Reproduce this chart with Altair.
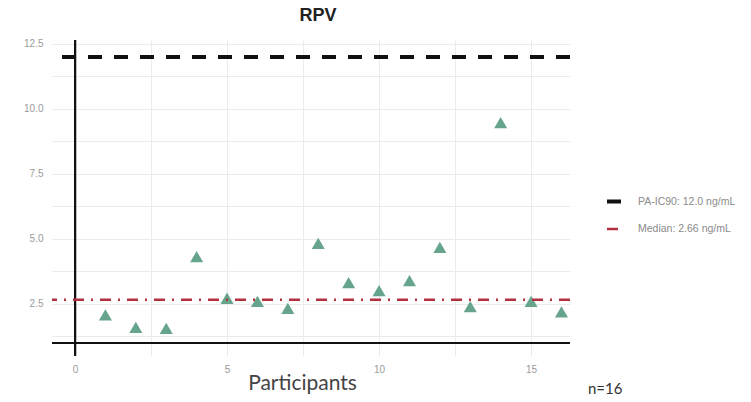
import altair as alt
import pandas as pd

# ---- data ----
participants = list(range(1, 17))
rpv_values = [2.08, 1.60, 1.56, 4.32, 2.72, 2.60, 2.33, 4.83,
              3.32, 3.01, 3.40, 4.68, 2.40, 9.47, 2.60, 2.20]
ref_labels = ["PA-IC90: 12.0 ng/mL", "Median: 2.66 ng/mL"]
ref_values = [12.0, 2.66]
ref_colors = ["#111111", "#b3313f"]
n_label = ["n=16"]
x_ticks = [0, 2.5, 5, 7.5, 10, 12.5, 15]
y_ticks = [1.25, 2.5, 3.75, 5.0, 6.25, 7.5, 8.75, 10.0, 11.25, 12.5]

pts = pd.DataFrame({"Participant": participants, "RPV": rpv_values})
refs = pd.DataFrame({"label": ref_labels, "value": ref_values})
ntext = pd.DataFrame({"t": n_label})

W, H = 518, 316
xs = alt.Scale(domain=[-0.757, 16.28], nice=False, zero=False)
ys = alt.Scale(domain=[0.5, 12.65], nice=False, zero=False)

x_axis = alt.Axis(values=x_ticks, labelExpr="datum.value % 5 == 0 ? format(datum.value, 'd') : ''",
                  grid=True, gridColor="#ebebeb", gridWidth=1, domain=False, ticks=False,
                  labelColor="#9a9a9a", labelFontSize=10, labelPadding=8, labelOverlap=False,
                  title="Participants", titleFont="Lato", titleFontSize=21,
                  titleFontWeight="normal", titleColor="#444444", titlePadding=-2, titleX=250)
y_axis = alt.Axis(values=y_ticks,
                  labelExpr="abs(datum.value / 2.5 - round(datum.value / 2.5)) < 0.01 ? format(datum.value, '.1f') : ''",
                  grid=True, gridColor="#ebebeb", gridWidth=1, domain=False, ticks=False,
                  labelColor="#9a9a9a", labelFontSize=10, labelPadding=9, labelOverlap=False,
                  title=None)

points = alt.Chart(pts).mark_point(shape="triangle-up", filled=True, size=170,
                                   color="#66a58c", opacity=1).encode(
    x=alt.X("Participant:Q", scale=xs, axis=x_axis),
    y=alt.Y("RPV:Q", scale=ys, axis=y_axis),
)

hline = alt.Chart(pts).mark_rule(color="#111111", strokeWidth=2).encode(
    y=alt.Y(datum=1.0, scale=ys, axis=y_axis))
vline = alt.Chart(pts).mark_rule(color="#111111", strokeWidth=2).encode(
    x=alt.X(datum=0, scale=xs, axis=x_axis))

leg = dict(title=None, orient="none", legendX=553, legendY=152,
           symbolType="stroke", symbolSize=225, symbolStrokeWidth=3,
           labelFontSize=10.5, labelColor="#8a8a8a", labelOffset=14,
           labelLimit=0, rowPadding=10, padding=0)

ref_rules = alt.Chart(refs).mark_rule().encode(
    y=alt.Y("value:Q", scale=ys, axis=y_axis),
    color=alt.Color("label:N", scale=alt.Scale(domain=ref_labels, range=ref_colors),
                    legend=alt.Legend(**leg)),
    strokeDash=alt.StrokeDash("label:N", scale=alt.Scale(domain=ref_labels, range=[[14, 12], [11, 7, 2, 7]]),
                              legend=alt.Legend(**leg)),
    strokeWidth=alt.StrokeWidth("label:N", scale=alt.Scale(domain=ref_labels, range=[4, 2.5]), legend=None),
)

ntxt = alt.Chart(ntext).mark_text(align="left", baseline="middle", font="Lato", fontSize=15,
                                  color="#333333").encode(
    text="t:N", x=alt.value(536), y=alt.value(349))

chart = alt.layer(points, hline, vline, ref_rules, ntxt).properties(
    width=W, height=H,
    title=alt.TitleParams("RPV", font="Liberation Sans", fontSize=18, fontWeight="bold",
                          color="#222222", anchor="middle", offset=14, dx=7),
    autosize=alt.AutoSizeParams(type="none"),
    padding={"left": 52, "top": 40, "right": 181, "bottom": 46},
    background="white",
).configure_view(stroke=None)

chart.save("out.html", embed_options={"renderer": "svg", "actions": False})
